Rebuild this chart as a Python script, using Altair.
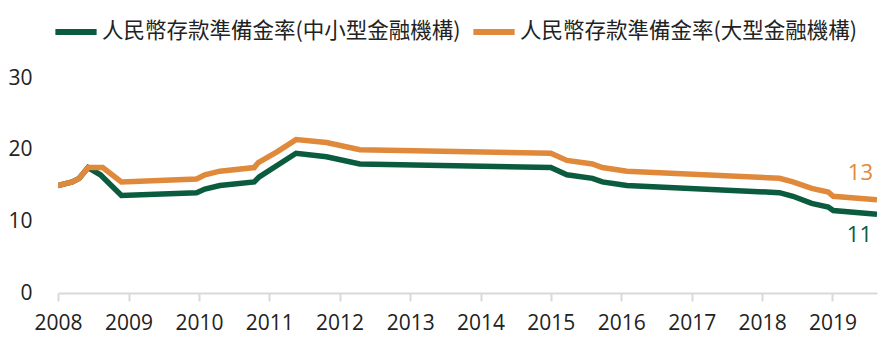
import altair as alt
import pandas as pd

# Series names
name_small = "人民幣存款準備金率(中小型金融機構)"
name_large = "人民幣存款準備金率(大型金融機構)"

# Large institutions (change points, %)
large_dates = ["2008-01-01", "2008-03-15", "2008-04-20", "2008-06-05", "2008-08-20",
               "2008-11-25", "2009-12-20", "2010-02-01", "2010-04-20", "2010-10-15",
               "2010-11-05", "2011-02-10", "2011-05-20", "2011-10-25", "2012-04-15",
               "2015-01-01", "2015-03-25", "2015-08-05", "2015-09-25", "2016-01-30",
               "2018-04-01", "2018-06-10", "2018-09-15", "2018-12-10", "2019-01-05",
               "2019-08-20"]
large_values = [15.0, 15.5, 16.0, 17.5, 17.5,
                15.5, 15.9, 16.5, 17.0, 17.5,
                18.2, 19.7, 21.4, 21.0, 20.0,
                19.5, 18.5, 18.0, 17.5, 17.0,
                16.0, 15.5, 14.6, 14.1, 13.5,
                13.0]

# Small & medium institutions (change points, %)
small_dates = ["2008-01-01", "2008-03-15", "2008-04-20", "2008-06-05", "2008-08-08",
               "2008-11-25", "2009-12-20", "2010-02-01", "2010-04-20", "2010-10-15",
               "2010-11-10", "2011-05-20", "2011-10-25", "2012-04-15",
               "2015-01-01", "2015-03-25", "2015-08-05", "2015-09-25", "2016-01-30",
               "2018-04-01", "2018-06-10", "2018-09-15", "2018-12-10", "2019-01-05",
               "2019-08-20"]
small_values = [15.0, 15.5, 16.0, 17.5, 16.5,
                13.6, 14.0, 14.5, 15.0, 15.5,
                16.2, 19.5, 19.0, 18.0,
                17.5, 16.5, 16.0, 15.5, 15.0,
                14.0, 13.5, 12.5, 12.0, 11.5,
                11.0]

years = list(range(2008, 2020))
y_ticks = [0, 10, 20, 30]

green = "#0B5C3E"
orange = "#E0893A"

df = pd.concat([
    pd.DataFrame({"date": small_dates, "value": small_values, "series": name_small}),
    pd.DataFrame({"date": large_dates, "value": large_values, "series": name_large}),
])

end_large = pd.DataFrame({"date": [large_dates[-1]], "value": [large_values[-1]],
                          "label": [f"{large_values[-1]:.0f}"]})
end_small = pd.DataFrame({"date": [small_dates[-1]], "value": [small_values[-1]],
                          "label": [f"{small_values[-1]:.0f}"]})

x_scale = alt.Scale(type="utc",
                    domain=[alt.DateTime(year=2008, month=1, date=1, utc=True),
                            alt.DateTime(year=2019, month=8, date=20, utc=True)])
y_scale = alt.Scale(domain=[0, 30], nice=False, zero=True)
color_scale = alt.Scale(domain=[name_small, name_large], range=[green, orange])

lines = alt.Chart(df).mark_line(strokeWidth=5.5, clip=True).encode(
    x=alt.X("date:T", scale=x_scale,
            axis=alt.Axis(title=None, format="%Y", formatType="utc",
                          values=[alt.DateTime(year=y, month=1, date=1, utc=True) for y in years],
                          domainColor="#D9D9D9", domainWidth=2,
                          tickColor="#D9D9D9", tickWidth=2, tickSize=8,
                          labelFontSize=21, labelFont="Open Sans", labelColor="#222222",
                          labelPadding=11, grid=False, labelFlush=False)),
    y=alt.Y("value:Q", scale=y_scale,
            axis=alt.Axis(title=None, values=y_ticks, domain=False, ticks=False, grid=False,
                          labelFontSize=21, labelFont="Open Sans", labelColor="#222222",
                          labelPadding=26)),
    color=alt.Color("series:N", scale=color_scale,
                    legend=alt.Legend(title=None, orient="none", direction="horizontal",
                                      legendX=-6, legendY=-70,
                                      symbolType="stroke", symbolSize=1700,
                                      symbolStrokeWidth=6, labelFontSize=21.5,
                                      labelFont="Noto Sans CJK TC", labelColor="#222222",
                                      labelOffset=2, columnPadding=0,
                                      labelLimit=500)),
)

label_large = alt.Chart(end_large).mark_text(
    align="right", baseline="middle", fontSize=22, font="Open Sans",
    dx=-4, dy=-27, color=orange).encode(
    x=alt.X("date:T", scale=x_scale),
    y=alt.Y("value:Q", scale=y_scale),
    text="label:N",
)

label_small = alt.Chart(end_small).mark_text(
    align="right", baseline="middle", fontSize=22, font="Open Sans",
    dx=-5, dy=21, color=green).encode(
    x=alt.X("date:T", scale=x_scale),
    y=alt.Y("value:Q", scale=y_scale),
    text="label:N",
)

chart = alt.layer(lines, label_large, label_small).properties(
    width=819, height=215,
    background="white",
    autosize=alt.AutoSizeParams(type="none"),
    padding={"left": 58, "top": 78, "right": 16, "bottom": 56},
).configure_view(strokeWidth=0, stroke="transparent")

chart.save("out.html", embed_options={"renderer": "svg", "actions": False})
